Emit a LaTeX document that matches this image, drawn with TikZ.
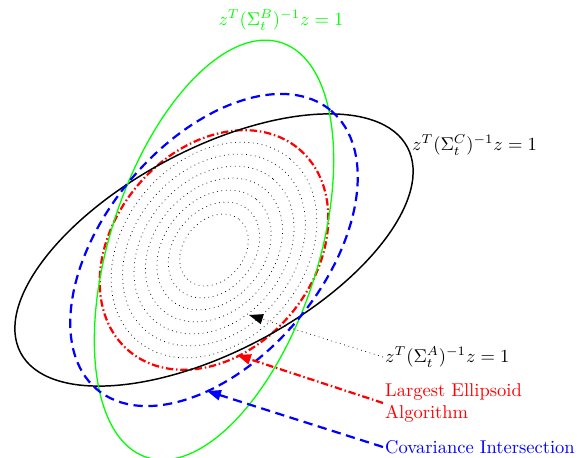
\documentclass[tikz,border=0pt]{standalone}
\usepackage{amsmath,amssymb}
\usetikzlibrary{arrows.meta}

\begin{document}
\begin{tikzpicture}[
    x=0.54pt, y=-0.54pt,
    ellA/.style={black, dotted, line width=0.4pt},
    ellB/.style={green, line width=0.7pt},
    ellC/.style={black, line width=0.8pt},
    ellLE/.style={red, line width=1.2pt, dash pattern=on 4pt off 1.5pt on 0.8pt off 1.5pt},
    ellCI/.style={blue, line width=1.2pt, dash pattern=on 5pt off 3pt},
    lbl/.style={inner sep=1pt, anchor=west},
    >={Triangle[length=7.5pt, width=5.5pt]}
  ]
  \useasboundingbox (0,0) rectangle (577,458);
  \coordinate (o) at (214,250);
  \foreach \s in {3,...,9}
    \draw[ellA, rotate around={50:(o)}] (o) ellipse[x radius=13.2*\s, y radius=10*\s];
  \draw[ellLE, rotate around={50:(o)}] (o) ellipse[x radius=132, y radius=100];
  \draw[ellC, rotate around={28:(o)}] (o) ellipse[x radius=219, y radius=101];
  \draw[ellB, rotate around={72:(o)}] (o) ellipse[x radius=218, y radius=104];
  \draw[ellCI, rotate around={50:(o)}] (o) ellipse[x radius=182, y radius=109];

  \node[lbl, green, anchor=center] (labelB) at (281,20) {$z^T(\Sigma_t^B)^{-1}z=1$};
  \node[lbl] (labelC) at (410,145) {$z^T(\Sigma_t^C)^{-1}z=1$};
  \node[lbl] (labelA) at (383,357) {$z^T(\Sigma_t^A)^{-1}z=1$};
  \node[lbl, red, align=left] (labelLE) at (383,403) {Largest Ellipsoid\\Algorithm};
  \node[lbl, blue] (labelCI) at (383,447) {Covariance Intersection};

  \coordinate (tipA) at (249,315);
  \coordinate (tipLE) at (237,355);
  \coordinate (tipCI) at (207,391);
  \draw[ellA, ->] (labelA.west) -- (tipA);
  \draw[ellLE, ->] (labelLE.west) -- (tipLE);
  \draw[ellCI, ->] (labelCI.west) -- (tipCI);
\end{tikzpicture}
\end{document}
